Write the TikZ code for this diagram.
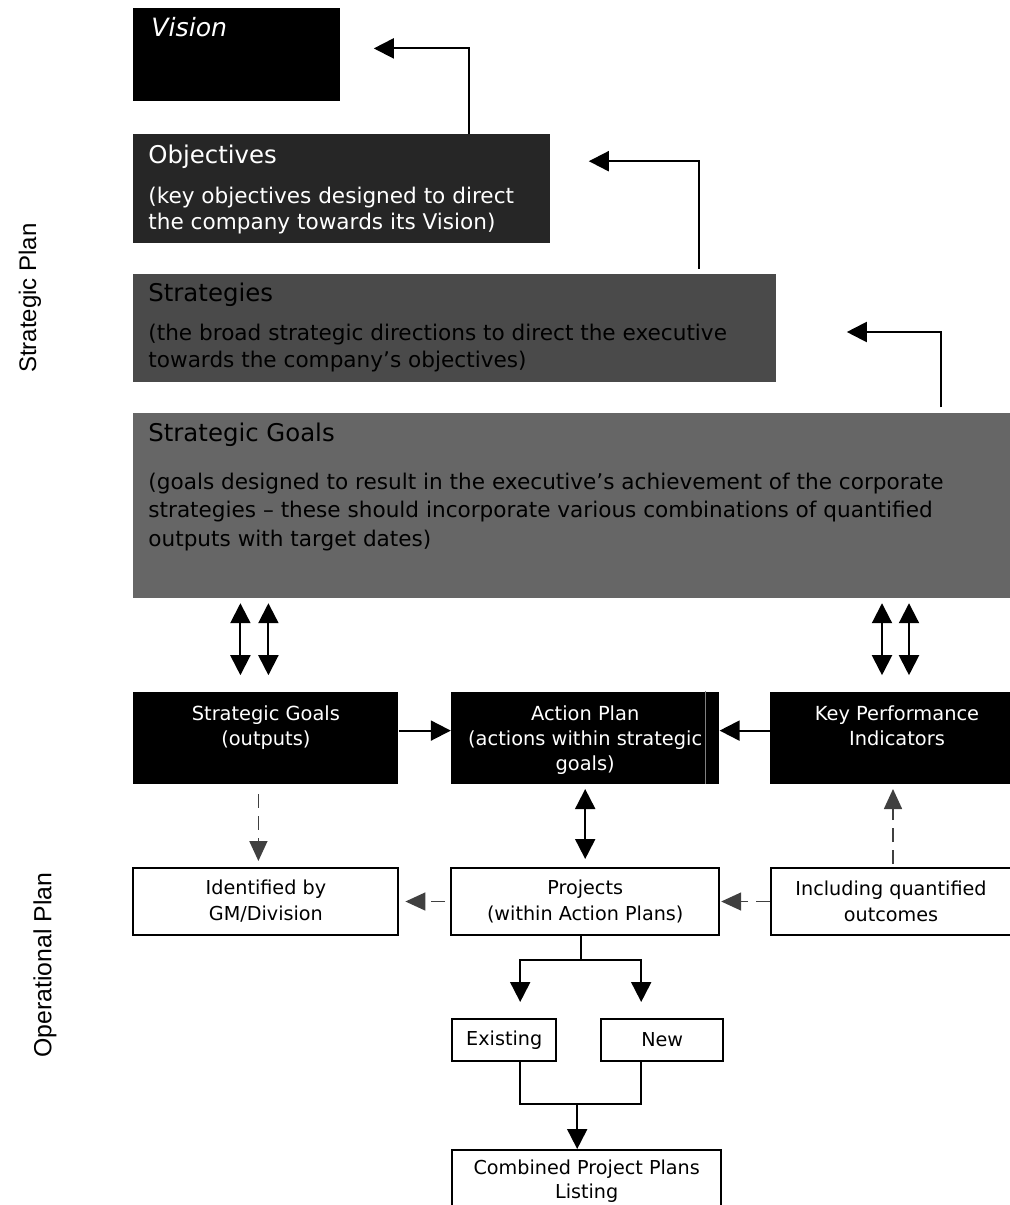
\documentclass[tikz,border=0pt]{standalone}
\usepackage{fontspec}
\setmainfont{DejaVu Sans}
\newfontfamily\sidefont{Liberation Sans}
\usepackage{tikz}
\usetikzlibrary{arrows.meta,positioning}
\definecolor{objgray}{HTML}{262626}
\definecolor{strgray}{HTML}{4A4A4A}
\definecolor{goalgray}{HTML}{666666}
\definecolor{dashgray}{HTML}{404040}

\begin{document}
\begin{tikzpicture}[
  x=0.5pt, y=-0.5pt,
  blk/.style={rectangle, inner sep=0pt, anchor=north west},
  wbox/.style={draw, line width=1pt, rectangle, inner sep=0pt, align=center,
               font=\fontsize{9.6}{13}\selectfont},
  head/.style={inner sep=0pt, anchor=base west,
               font=\fontsize{12.2}{14}\selectfont},
  body/.style={inner sep=0pt, anchor=base west, align=left,
               font=\fontsize{10.8}{13.5}\selectfont},
  btext/.style={text=white, inner sep=0pt, anchor=base, align=center,
               font=\fontsize{9.7}{12.5}\selectfont},
  side/.style={rotate=90, inner sep=0pt, font=\sidefont\fontsize{12}{14}\selectfont},
  arr/.style={-{Triangle[length=10pt,width=10pt]}, line width=1pt},
  dbl/.style={{Triangle[length=10pt,width=10pt]}-{Triangle[length=10pt,width=10pt]}, line width=1pt},
  dsh/.style={-{Triangle[length=10pt,width=9pt]}, line width=0.8pt, color=dashgray,
              dash pattern=on 7pt off 4pt},
  conn/.style={line width=1pt}
]
\useasboundingbox (0,0) rectangle (1010,1205);

% Side labels
\node[side] (stratplan) at (30,298) {Strategic Plan};
\node[side, font=\sidefont\fontsize{12.4}{14}\selectfont] (opplan) at (45,965) {Operational Plan};

% Strategic plan - stacked boxes
\node[blk, fill=black, minimum width=103.5pt, minimum height=46.5pt] (vision) at (133,8) {};
\node[blk, fill=objgray, minimum width=208.5pt, minimum height=54.5pt,
      below right=16pt and 0pt of vision.south west] (obj) {};
\node[blk, fill=strgray, minimum width=321.5pt, minimum height=54pt,
      below right=15pt and 0pt of obj.south west] (strat) {};
\node[blk, fill=goalgray, minimum width=438.5pt, minimum height=92.5pt,
      below right=15pt and 0pt of strat.south west] (sg) {};

% Texts of the stacked boxes (base = last line)
\node[text=white, inner sep=0pt, anchor=base west, font=\fontsize{12.6}{14}\selectfont\itshape]
  (visiontxt) at ([xshift=9pt,yshift=-14.35pt]vision.north west) {Vision};
\node[head, text=white] (objhead) at ([xshift=7.5pt,yshift=-15pt]obj.north west) {Objectives};
\node[body, text=white, font=\fontsize{10.8}{13}\selectfont] (objbody) at ([xshift=7.5pt,yshift=-48pt]obj.north west)
  {(key objectives designed to direct\\the company towards its Vision)};
\node[head, text=black] (strathead) at ([xshift=7.5pt,yshift=-14pt]strat.north west) {Strategies};
\node[body, text=black] (stratbody) at ([xshift=7.5pt,yshift=-47pt]strat.north west)
  {(the broad strategic directions to direct the executive\\towards the company's objectives)};
\node[head, text=black] (sghead) at ([xshift=7.5pt,yshift=-14.5pt]sg.north west) {Strategic Goals};
\node[body, text=black, font=\fontsize{10.8}{14.25}\selectfont] (sgbody) at ([xshift=7.5pt,yshift=-67pt]sg.north west)
  {(goals designed to result in the executive’s achievement of the corporate\\strategies – these should incorporate various combinations of quantified\\outputs with target dates)};

% Up arrows between the stacked boxes
\draw[arr] ([xshift=-41pt]obj.north east) |- ([xshift=16.5pt,yshift=3.25pt]vision.east);
\draw[arr, shorten <=2.5pt] ([xshift=-39pt]strat.north east) |- ([xshift=19pt,yshift=13.75pt]obj.east);
\draw[arr, shorten <=2.5pt] ([xshift=-35pt]sg.north east) |- ([xshift=35pt,yshift=-2pt]strat.east);

% Operational plan - black row
\node[blk, fill=black, minimum width=132.5pt, minimum height=46pt,
      below right=46.5pt and 0pt of sg.south west] (sgo) {};
\node[blk, fill=black, minimum width=134pt, minimum height=46pt, right=26pt of sgo] (ap) {};
\node[blk, fill=black, minimum width=121pt, minimum height=46pt, right=25pt of ap] (kpi) {};
\draw[gray, line width=0.5pt] ([xshift=-7pt]ap.north east) -- ([xshift=-7pt]ap.south east);

\node[btext] (sgotxt) at ([yshift=-27pt]sgo.north) {Strategic Goals\\(outputs)};
\node[btext] (aptxt) at ([yshift=-39.5pt]ap.north) {Action Plan\\(actions within strategic\\goals)};
\node[btext] (kpitxt) at ([xshift=3pt,yshift=-27pt]kpi.north) {Key Performance\\Indicators};

% White row
\node[wbox, minimum width=132.5pt, minimum height=33.5pt, below=41.5pt of sgo] (ident) {Identified by\\GM/Division};
\node[wbox, minimum width=134pt, minimum height=33.5pt, below=41.5pt of ap] (proj) {Projects\\(within Action Plans)};
\node[wbox, minimum width=120pt, minimum height=33.5pt, below=41.5pt of kpi] (incl) {Including quantified\\outcomes};

% Project split
\node[wbox, minimum width=52pt, minimum height=21pt,
      below right=41pt and 0.5pt of proj.south west] (exist) {Existing};
\node[wbox, minimum width=61pt, minimum height=21pt, right=21.5pt of exist] (new) {New};
\node[wbox, minimum width=134.5pt, minimum height=31pt, font=\fontsize{9.6}{12}\selectfont,
      below right=43.5pt and 0pt of exist.south west] (comb) {Combined Project Plans\\Listing};

% Arrows - goals to black row
\draw[dbl, shorten <=2.5pt, shorten >=8pt] ([xshift=-12.75pt]sgo.north |- sg.south) -- ([xshift=-12.75pt]sgo.north);
\draw[dbl, shorten <=2.5pt, shorten >=8pt] ([xshift=1.25pt]sgo.north |- sg.south) -- ([xshift=1.25pt]sgo.north);
\draw[dbl, shorten <=2.5pt, shorten >=8pt] ([xshift=-4.5pt]kpi.north |- sg.south) -- ([xshift=-4.5pt]kpi.north);
\draw[dbl, shorten <=2.5pt, shorten >=8pt] ([xshift=9pt]kpi.north |- sg.south) -- ([xshift=9pt]kpi.north);

% Arrows - black row
\draw[arr] ([yshift=3.5pt]sgo.east) -- ([yshift=3.5pt]ap.west);
\draw[arr] ([yshift=3.5pt]kpi.west) -- ([yshift=3.5pt]ap.east);
\draw[dbl, shorten <=2.5pt, shorten >=4pt] (ap.south) -- (proj.north);

% Dashed arrows
\draw[dsh, shorten <=5pt, shorten >=3pt] ([xshift=-3.75pt]sgo.south) -- ([xshift=-3.75pt]ident.north);
\draw[dsh, shorten <=1.5pt, shorten >=2.5pt] ([xshift=1pt]incl.north) -- ([xshift=1pt]kpi.south);
\draw[dsh, shorten <=2.5pt, shorten >=3pt] (proj.west) -- (ident.east);
\draw[dsh, shorten >=0.5pt] (incl.west) -- (proj.east);

% Tree below projects
\coordinate (split) at ([xshift=-2pt,yshift=-12pt]proj.south);
\coordinate (merge) at ([xshift=-4.75pt,yshift=22.5pt]comb.north);
\draw[conn] (proj.south -| split) -- (split);
\draw[arr, shorten >=8pt] (split) -| ([xshift=8pt]exist.north);
\draw[arr, shorten >=8pt] (split) -| ([xshift=-10.5pt]new.north);
\draw[conn] ([xshift=8pt]exist.south) |- (merge) -| ([xshift=-10.5pt]new.south);
\draw[arr] (merge) -- (merge |- comb.north);

\end{tikzpicture}
\end{document}
